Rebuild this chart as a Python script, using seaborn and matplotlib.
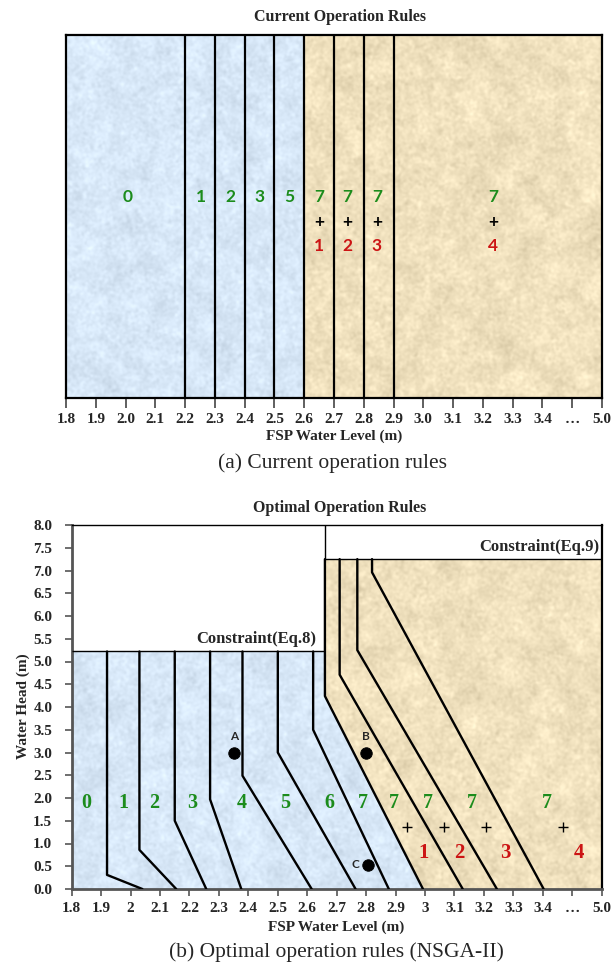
import numpy as np
import pandas as pd
import matplotlib
matplotlib.use("Agg")
import matplotlib.pyplot as plt
import seaborn as sns
from matplotlib.patches import Polygon

# ---------------- data ----------------
# FSP water level tick labels (broken axis: 3.4 ... 5.0)
ticks_a = ["1.8", "1.9", "2.0", "2.1", "2.2", "2.3", "2.4", "2.5", "2.6", "2.7",
           "2.8", "2.9", "3.0", "3.1", "3.2", "3.3", "3.4", "\u2026", "5.0"]
ticks_b = ["1.8", "1.9", "2", "2.1", "2.2", "2.3", "2.4", "2.5", "2.6", "2.7",
           "2.8", "2.9", "3", "3.1", "3.2", "3.3", "3.4", "\u2026", "5.0"]
head_ticks = [0.0, 0.5, 1.0, 1.5, 2.0, 2.5, 3.0, 3.5, 4.0, 4.5, 5.0, 5.5, 6.0, 6.5, 7.0, 7.5, 8.0]

# (a) current rules: switching levels and zone annotations
current_bounds = [2.2, 2.3, 2.4, 2.5, 2.6, 2.7, 2.8, 2.9]
current_pump_start = 2.6          # upper (tan) zone begins here
current_green_x = [2.008, 2.254, 2.352, 2.451, 2.55, 2.649, 2.746, 2.844, 3.235]
current_green = ["0", "1", "2", "3", "5", "7", "7", "7", "7"]
current_red_x = [2.649, 2.746, 2.844, 3.235]
current_red = ["1", "2", "3", "4"]

# (b) optimal rules: each rule = vertical at x_upper from top head down to knee, then to x_bottom at 0 m
rule_x_upper = [1.92, 2.03, 2.15, 2.27, 2.38, 2.50, 2.62, 2.66, 2.71, 2.77, 2.82]
rule_top = [5.22, 5.22, 5.22, 5.22, 5.22, 5.22, 5.22, 7.25, 7.25, 7.25, 7.25]
rule_knee = [0.31, 0.86, 1.50, 1.97, 2.49, 3.00, 3.50, 4.24, 4.71, 5.25, 6.96]
rule_x_bottom = [2.04, 2.155, 2.257, 2.376, 2.615, 2.764, 2.877, 2.993, 3.128, 3.244, 3.423]
eq8_head = 5.22
eq9_head = 7.25
eq9_level = 2.66

opt_green_x = [1.848, 1.976, 2.08, 2.209, 2.376, 2.524, 2.675, 2.789, 2.894, 3.010, 3.158, 3.52]
opt_green = ["0", "1", "2", "3", "4", "5", "6", "7", "7", "7", "7", "7"]
opt_plus_x = [2.94, 3.065, 3.206, 3.96]
opt_red_x = [2.994, 3.116, 3.274, 4.37]
opt_red = ["1", "2", "3", "4"]

point_names = ["A", "B", "C"]
point_level = [2.35, 2.80, 2.805]
point_head = [3.0, 3.0, 0.53]


def to_axis(level):
    """Map FSP level onto the broken axis (linear to 3.4, compressed above)."""
    level = np.asarray(level, dtype=float)
    return np.where(level <= 3.4 + 1e-9, (level - 1.8) / 0.1, 16 + (level - 3.4) / 0.8)


# ---------------- style ----------------
sns.set_theme(style="white")
plt.rcParams["font.family"] = ["Liberation Serif", "DejaVu Serif"]
plt.rcParams["axes.linewidth"] = 1.5

GREEN = "#1c8c1c"
RED = "#cc1414"
BLUE = (216, 232, 248)
TAN = (240, 225, 190)
SANS = ["Lato", "DejaVu Sans"]


def _blur(a, sigma):
    fy = np.fft.fftfreq(a.shape[0])[:, None]
    fx = np.fft.fftfreq(a.shape[1])[None, :]
    g = np.exp(-2 * (np.pi * sigma) ** 2 * (fx ** 2 + fy ** 2))
    return np.real(np.fft.ifft2(np.fft.fft2(a) * g))


def paper_texture(seed, base, amp, shape=(380, 560)):
    rng = np.random.default_rng(seed)
    n = (_blur(rng.standard_normal(shape), 1.2) * 1.0
         + _blur(rng.standard_normal(shape), 6.0) * 4.0)
    n = (n - n.mean()) / n.std()
    rgb = np.array(base, dtype=float)[None, None, :] / 255.0 + amp * n[..., None]
    return np.clip(rgb, 0, 1)


def fill_textured(ax, verts, tex, extent):
    poly = Polygon(verts, closed=True, facecolor="none", edgecolor="none")
    ax.add_patch(poly)
    im = ax.imshow(tex, extent=extent, aspect="auto", interpolation="bilinear",
                   zorder=0, origin="lower")
    im.set_clip_path(poly)


fig = plt.figure(figsize=(6.16, 9.66), dpi=100)
W, H = 616, 966

# ================= (a) current operation rules =================
ax1 = fig.add_axes([66 / W, 1 - 398 / H, 536 / W, 363 / H])
ax1.set_xlim(0, 18)
ax1.set_ylim(0, 1)
xs = float(to_axis(current_pump_start))
fill_textured(ax1, [(0, 0), (0, 1), (xs, 1), (xs, 0)],
              paper_texture(1, BLUE, 0.02), (0, 18, 0, 1))
fill_textured(ax1, [(xs, 0), (xs, 1), (18, 1), (18, 0)],
              paper_texture(2, TAN, 0.024), (0, 18, 0, 1))
ax1.vlines(to_axis(current_bounds), 0, 1, colors="black", lw=1.6, zorder=3)

for x, t in zip(current_green_x, current_green):
    ax1.text(float(to_axis(x)), 0.554, t, color=GREEN, fontsize=12.5, fontweight="bold",
             family=SANS, ha="center", va="center", zorder=4)
for x in current_red_x:
    ax1.text(float(to_axis(x)), 0.486, "+", color="black", fontsize=12.5, fontweight="bold",
             family=SANS, ha="center", va="center", zorder=4)
for x, t in zip(current_red_x, current_red):
    ax1.text(float(to_axis(x)), 0.419, t, color=RED, fontsize=12.5, fontweight="bold",
             family=SANS, ha="center", va="center", zorder=4)

ax1.set_xticks(range(19))
ax1.set_xticklabels(ticks_a, fontsize=11, fontweight="bold")
ax1.set_yticks([])
ax1.tick_params(axis="x", direction="out", length=7, width=1.2, color="#444444", pad=4,
                bottom=True)
for s in ax1.spines.values():
    s.set_color("black")
    s.set_linewidth(1.6)

fig.text(340 / W, 1 - 17 / H, "Current Operation Rules", ha="center", va="center",
         fontsize=11.5, fontweight="bold")
fig.text(334 / W, 1 - 436 / H, "FSP Water Level (m)", ha="center", va="center",
         fontsize=11, fontweight="bold")
fig.text(332 / W, 1 - 463 / H, "(a) Current operation rules", ha="center", va="center",
         fontsize=15.5)

# ================= (b) optimal operation rules (NSGA-II) =================
ax2 = fig.add_axes([71.7 / W, 1 - 889 / H, 530 / W, 364 / H])
ax2.set_xlim(0, 18)
ax2.set_ylim(0, 8)

xb = float(to_axis(eq9_level))
blue_verts = [(0, 0), (0, eq8_head), (xb, eq8_head), (xb, rule_knee[7]),
              (float(to_axis(rule_x_bottom[7])), 0)]
tan_verts = [(xb, eq9_head), (18, eq9_head), (18, 0),
             (float(to_axis(rule_x_bottom[7])), 0), (xb, rule_knee[7])]
fill_textured(ax2, blue_verts, paper_texture(3, BLUE, 0.02), (0, 18, 0, 8))
fill_textured(ax2, tan_verts, paper_texture(4, TAN, 0.024), (0, 18, 0, 8))

# constraint edges
ax2.hlines(eq8_head, 0, xb, colors="black", lw=1.0, zorder=3)
ax2.hlines(eq9_head, xb, 18, colors="black", lw=1.0, zorder=3)
ax2.vlines(xb, eq9_head, 8, colors="black", lw=1.0, zorder=3)

# rule lines
rows = []
for i, (xu, top, knee, xbot) in enumerate(zip(rule_x_upper, rule_top, rule_knee, rule_x_bottom)):
    for lv, hd, k in [(xu, top, 0), (xu, knee, 1), (xbot, 0.0, 2)]:
        rows.append({"rule": i, "order": k, "pos": float(to_axis(lv)), "head": hd})
rules = pd.DataFrame(rows)
for i, g in rules.groupby("rule"):
    sns.lineplot(data=g, x="pos", y="head", sort=False, estimator=None, color="black",
                 lw=1.7, ax=ax2, zorder=3)

for x, t in zip(opt_green_x, opt_green):
    ax2.text(float(to_axis(x)), 1.9, t, color=GREEN, fontsize=14.5, fontweight="bold",
             ha="center", va="center", zorder=4)
ax2.scatter(to_axis(opt_plus_x), [1.36] * len(opt_plus_x), marker="+", s=55,
            color="black", linewidths=1.0, zorder=4)
for x, t in zip(opt_red_x, opt_red):
    ax2.text(float(to_axis(x)), 0.80, t, color=RED, fontsize=15, fontweight="bold",
             ha="center", va="center", zorder=4)

pts = pd.DataFrame({"pos": to_axis(point_level), "head": point_head, "name": point_names})
sns.scatterplot(data=pts, x="pos", y="head", color="black", s=68, edgecolor="black",
                ax=ax2, zorder=5, legend=False)
for _, r in pts.iterrows():
    if r["name"] == "C":
        ax2.text(r["pos"] - 0.28, r["head"], r["name"], ha="right", va="center",
                 fontsize=8.5, fontweight="bold", family=SANS, zorder=5)
    else:
        ax2.text(r["pos"], r["head"] + 0.36, r["name"], ha="center", va="center",
                 fontsize=8.5, fontweight="bold", family=SANS, zorder=5)

ax2.text(float(to_axis(2.632)), 5.5, "Constraint(Eq.8)", ha="right", va="center",
         fontsize=12, fontweight="bold", zorder=4)
ax2.text(17.92, 7.52, "Constraint(Eq.9)", ha="right", va="center",
         fontsize=12, fontweight="bold", zorder=4)

ax2.set_xticks(range(19))
ax2.set_xticklabels(ticks_b, fontsize=11, fontweight="bold")
ax2.set_yticks(head_ticks)
ax2.set_yticklabels([f"{v:.1f}" for v in head_ticks], fontsize=11, fontweight="bold")
ax2.tick_params(axis="x", direction="out", length=5, width=1.2, color="#555555", pad=4,
                bottom=True)
ax2.tick_params(axis="y", direction="out", length=5, width=1.2, color="#555555", pad=9,
                left=True)
ax2.set_xlabel("")
ax2.set_ylabel("")
for side in ["top", "right"]:
    ax2.spines[side].set_color("black")
    ax2.spines[side].set_linewidth(1.0)
ax2.spines["right"].set_linewidth(1.6)
for side in ["left", "bottom"]:
    ax2.spines[side].set_color("#555555")
    ax2.spines[side].set_linewidth(2.0)

fig.text(340 / W, 1 - 508 / H, "Optimal Operation Rules", ha="center", va="center",
         fontsize=11.5, fontweight="bold")
fig.text(23 / W, 1 - 706 / H, "Water Head (m)", ha="center", va="center", rotation=90,
         fontsize=11, fontweight="bold")
fig.text(336 / W, 1 - 927 / H, "FSP Water Level (m)", ha="center", va="center",
         fontsize=11, fontweight="bold")
fig.text(336 / W, 1 - 952 / H, "(b) Optimal operation rules (NSGA-II)", ha="center",
         va="center", fontsize=15.5)

fig.savefig("out.png", dpi=100)
